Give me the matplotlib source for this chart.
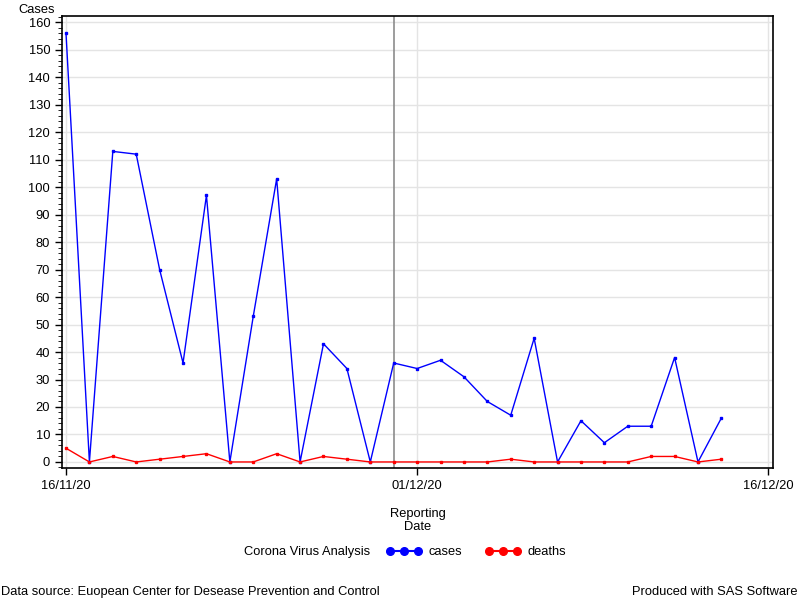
import pandas as pd
import matplotlib.pyplot as plt
import matplotlib.dates as mdates
from matplotlib.lines import Line2D
from matplotlib.ticker import MultipleLocator

plt.rcParams['font.family'] = ['Liberation Sans', 'DejaVu Sans']

dates = ["2020-11-16", "2020-11-17", "2020-11-18", "2020-11-19", "2020-11-20",
         "2020-11-21", "2020-11-22", "2020-11-23", "2020-11-24", "2020-11-25",
         "2020-11-26", "2020-11-27", "2020-11-28", "2020-11-29", "2020-11-30",
         "2020-12-01", "2020-12-02", "2020-12-03", "2020-12-04", "2020-12-05",
         "2020-12-06", "2020-12-07", "2020-12-08", "2020-12-09", "2020-12-10",
         "2020-12-11", "2020-12-12", "2020-12-13", "2020-12-14"]
cases = [156, 0, 113, 112, 70, 36, 97, 0, 53, 103, 0, 43, 34, 0, 36,
         34, 37, 31, 22, 17, 45, 0, 15, 7, 13, 13, 38, 0, 16]
deaths = [5, 0, 2, 0, 1, 2, 3, 0, 0, 3, 0, 2, 1, 0, 0,
          0, 0, 0, 0, 1, 0, 0, 0, 0, 0, 2, 2, 0, 1]
tick_dates = ["2020-11-16", "2020-12-01", "2020-12-16"]
ref_date = "2020-11-30"

x = pd.to_datetime(dates)
ticks = pd.to_datetime(tick_dates)
fs = 9.3

fig = plt.figure(figsize=(8, 6), dpi=100)
ax = fig.add_axes([0.0775, 0.22, 0.889, 0.753])

ax.plot(x, cases, color='blue', lw=1, marker='s', ms=1.7)
ax.plot(x, deaths, color='red', lw=1, marker='s', ms=1.7)
ax.axvline(pd.Timestamp(ref_date), color='#8c8c8c', lw=1.2, zorder=1)

ax.set_xlim(pd.Timestamp("2020-11-16") - pd.Timedelta(hours=4.1),
            pd.Timestamp("2020-12-16") + pd.Timedelta(hours=5.1))
ax.set_ylim(-2.2, 162.2)
ax.set_xticks(ticks)
ax.xaxis.set_major_formatter(mdates.DateFormatter('%d/%m/%y'))
ax.yaxis.set_major_locator(MultipleLocator(10))
ax.yaxis.set_minor_locator(MultipleLocator(2))
ax.grid(True, color='#e4e4e4', lw=1)
ax.set_axisbelow(True)
ax.tick_params(labelsize=fs, length=5, width=1, colors='black')
ax.tick_params(which='minor', length=3)
for s in ax.spines.values():
    s.set_linewidth(1.2)

fig.text(0.0225, 0.974, 'Cases', fontsize=fs, ha='left', va='bottom')
ax.set_xlabel('Reporting\nDate', fontsize=fs, labelpad=12, linespacing=1.05)

fig.text(0.463, 0.08, 'Corona Virus Analysis', fontsize=fs, ha='right', va='center')
handles = [Line2D([], [], color='blue', marker='o', ms=5.5, lw=1.5),
           Line2D([], [], color='red', marker='o', ms=5.5, lw=1.5)]
fig.legend(handles, ['cases', 'deaths'], loc='center left', bbox_to_anchor=(0.474, 0.08),
           ncol=2, frameon=False, numpoints=3, fontsize=fs, handlelength=2.8,
           handletextpad=0.5, columnspacing=1.8, borderpad=0)

fig.text(0.001, 0.013, 'Data source: Euopean Center for Desease Prevention and Control',
         fontsize=fs, ha='left', va='center')
fig.text(0.997, 0.013, 'Produced with SAS Software', fontsize=fs, ha='right', va='center')

fig.savefig('out.png', dpi=100)
